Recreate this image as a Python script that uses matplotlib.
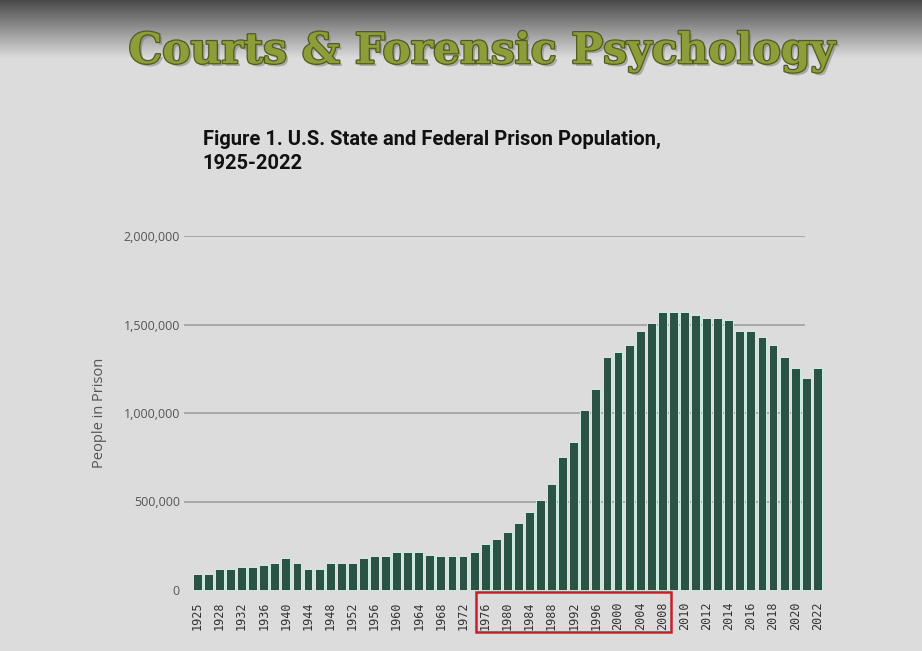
import numpy as np
import matplotlib.pyplot as plt
import matplotlib.patheffects as pe
from matplotlib.patches import Rectangle
from matplotlib.ticker import FuncFormatter

years = ["1925", "1926", "1928", "1930", "1932", "1934", "1936", "1938", "1940",
         "1942", "1944", "1946", "1948", "1950", "1952", "1954", "1956", "1958",
         "1960", "1962", "1964", "1966", "1968", "1970", "1972", "1974", "1976",
         "1978", "1980", "1982", "1984", "1986", "1988", "1990", "1992", "1994",
         "1996", "1998", "2000", "2002", "2004", "2006", "2008", "2009", "2010",
         "2011", "2012", "2013", "2014", "2015", "2016", "2017", "2018", "2019",
         "2020", "2021", "2022"]
population = [88000, 88000, 119000, 119000, 130000, 130000, 141000, 153000, 179000,
              153000, 119000, 119000, 153000, 153000, 153000, 179000, 191000, 191000,
              217000, 217000, 217000, 200000, 191000, 191000, 191000, 213000, 260000,
              289000, 326000, 377000, 443000, 511000, 598000, 751000, 834000, 1015000,
              1136000, 1315000, 1343000, 1387000, 1464000, 1511000, 1568000, 1568000, 1568000,
              1555000, 1534000, 1534000, 1525000, 1464000, 1464000, 1430000, 1387000, 1315000,
              1255000, 1198000, 1255000]
y_ticks = [0, 500000, 1000000, 1500000, 2000000]
highlight = ("1976", "2008")

W, H = 922, 651
fig = plt.figure(figsize=(W / 100, H / 100), dpi=100)
fig.patch.set_facecolor("#dcdcdc")

# background gradient at the top of the slide
bg = fig.add_axes([0, 0, 1, 1], zorder=-10)
rows = np.arange(H)
shade = np.clip(rows / 58.0, 0, 1)
col = 0.29 + (0.863 - 0.29) * shade
bg.imshow(np.repeat(col[:, None], 2, axis=1), cmap="gray", vmin=0, vmax=1,
          aspect="auto", extent=[0, 1, 0, 1])
bg.axis("off")

fig.text(0.523, 0.903, "Courts & Forensic Psychology", ha="center", va="baseline",
         family="DejaVu Serif", fontweight="bold", fontsize=30.5, color="#8c9d3a",
         path_effects=[pe.withSimplePatchShadow(offset=(2, -2), shadow_rgbFace="#777777", alpha=0.5),
                       pe.withStroke(linewidth=1.8, foreground="#4f5c1c")])
fig.text(0.220, 0.800, "Figure 1. U.S. State and Federal Prison Population,\n1925-2022",
         ha="left", va="top", family="Roboto",
         fontweight="bold", fontsize=14.5, color="#111111", linespacing=1.3)

ax = fig.add_axes([184 / W, (H - 590) / H, 640 / W, 354 / H])
ax.set_facecolor("none")
x = np.arange(len(years))
ax.bar(x, population, width=0.8, color="#2a5245", edgecolor="#cfeee2", linewidth=0.7, zorder=3)
ax.set_xlim(-1.2, len(years) - 0.4)
ax.set_ylim(0, 2000000)

span = len(years) - 0.4 + 1.2
for v in y_ticks[1:]:
    ax.axhline(v, xmin=0, xmax=(54.8 + 1.2) / span, color="#a4a4a4", lw=1.3, zorder=1)

ax.set_yticks(y_ticks)
ax.yaxis.set_major_formatter(FuncFormatter(lambda v, p: f"{int(v):,}"))
ax.set_xticks(x[::2])
ax.set_xticklabels(years[::2], rotation=90, family="DejaVu Sans Mono", fontsize=8.5, color="#333333")
for lab in ax.get_yticklabels():
    lab.set_family("Open Sans")
    lab.set_fontsize(9)
    lab.set_color("#555555")
ax.tick_params(axis="both", length=0)
ax.tick_params(axis="x", pad=8)
ax.tick_params(axis="y", pad=3)
for s in ax.spines.values():
    s.set_visible(False)
ax.set_ylabel("People in Prison", family="Open Sans", fontsize=10.5, color="#555555", labelpad=12)

i0, i1 = years.index(highlight[0]), years.index(highlight[1])
ax.add_patch(Rectangle((i0 - 0.8, -0.118), (i1 - i0) + 1.6, 0.113,
                       transform=ax.get_xaxis_transform(), fill=False,
                       edgecolor="#c4202c", lw=1.8, clip_on=False, zorder=5))

fig.savefig("out.png", dpi=100, facecolor=fig.get_facecolor())
